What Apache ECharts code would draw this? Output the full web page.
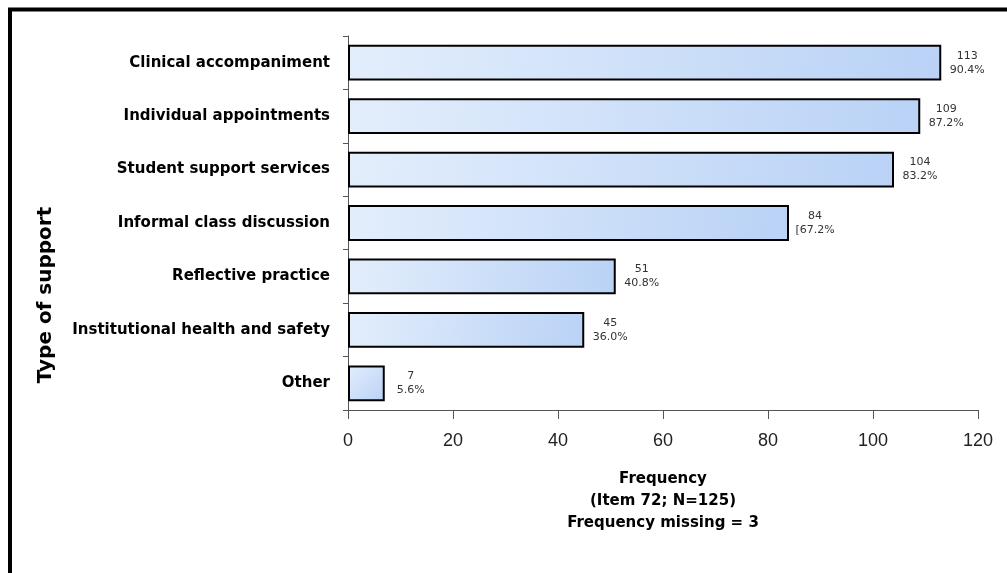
<!DOCTYPE html>
<html><head><meta charset="utf-8">
<script src="https://cdn.jsdelivr.net/npm/echarts@6/dist/echarts.min.js"></script>
<style>html,body{margin:0;padding:0;background:#fff}#c{width:1007px;height:573px}</style>
</head><body><div id="c"></div>
<script>
const categories = ["Clinical accompaniment","Individual appointments","Student support services","Informal class discussion","Reflective practice","Institutional health and safety","Other"];
const counts = [113,109,104,84,51,45,7];
const percents = ["90.4%","87.2%","83.2%","[67.2%","40.8%","36.0%","5.6%"];
const xTicks = [0,20,40,60,80,100,120];

const chart = echarts.init(document.getElementById('c'));
chart.setOption({
  animation:false,
  graphic:[
    {type:'rect',shape:{x:10,y:9.5,width:1200,height:800},style:{fill:'none',stroke:'#000',lineWidth:4}},
    {type:'text',x:46,y:295,rotation:Math.PI/2,style:{text:'Type of support',font:'bold 20px "DejaVu Sans"',fill:'#000',textAlign:'center',textVerticalAlign:'middle'}}
  ],
  grid:{left:348,right:29,top:36,bottom:163},
  xAxis:{type:'value',min:xTicks[0],max:xTicks[xTicks.length-1],interval:20,
    axisLine:{show:true,lineStyle:{color:'#555',width:1}},
    axisTick:{show:true,length:9,lineStyle:{color:'#555'}},
    splitLine:{show:false},
    axisLabel:{fontSize:18,color:'#222',fontFamily:'Arial',margin:22},
    name:'Frequency\n(Item 72; N=125)\nFrequency missing = 3',nameLocation:'middle',nameGap:58,
    nameTextStyle:{fontWeight:'bold',fontSize:15,color:'#000',fontFamily:'DejaVu Sans',lineHeight:22,verticalAlign:'top'}
  },
  yAxis:{type:'category',data:categories,inverse:true,
    axisLine:{show:true,lineStyle:{color:'#555',width:1}},
    axisTick:{show:true,length:5,lineStyle:{color:'#555'}},
    axisLabel:{fontWeight:'bold',fontSize:15,color:'#000',fontFamily:'DejaVu Sans',margin:18}
  },
  series:[{type:'bar',data:counts,barCategoryGap:'33%',
    itemStyle:{borderColor:'#000',borderWidth:2,
      color:new echarts.graphic.LinearGradient(0,0,1,1,[{offset:0,color:'#e3eefc'},{offset:1,color:'#b9d2f6'}])},
    label:{show:true,position:'right',distance:26,align:'center',fontSize:11,color:'#333',fontFamily:'DejaVu Sans',lineHeight:14,
      formatter:p=>p.value+'\n'+percents[p.dataIndex]}
  }]
});
</script></body></html>
